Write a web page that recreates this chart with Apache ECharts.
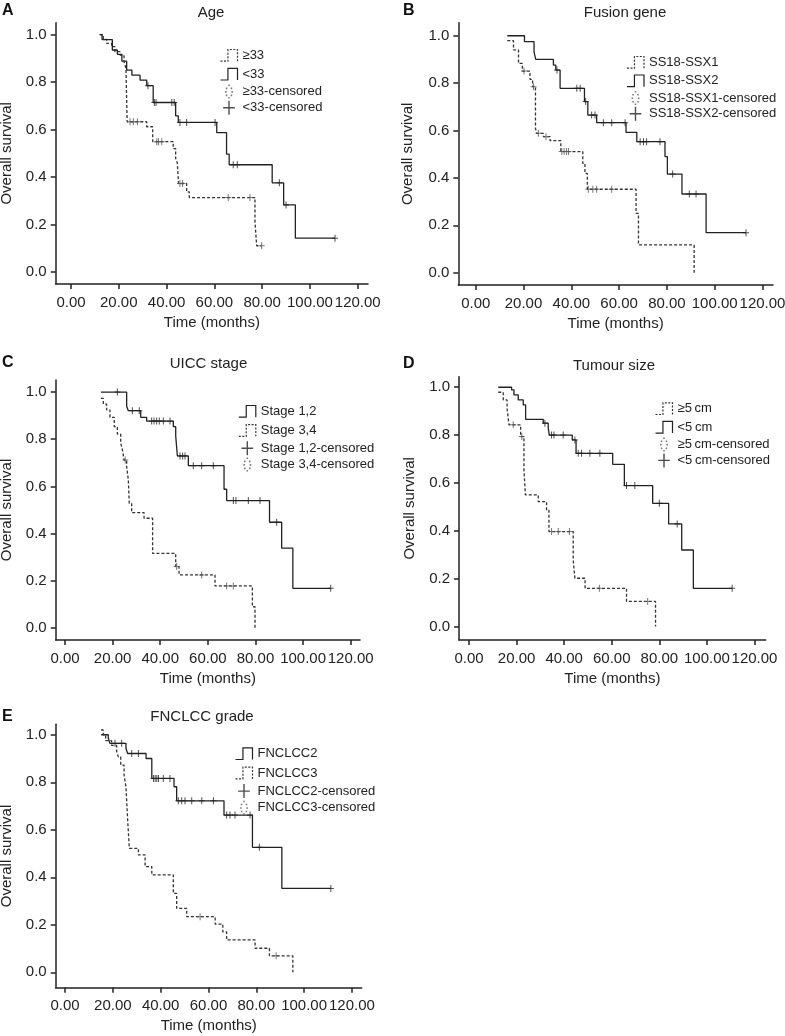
<!DOCTYPE html>
<html>
<head>
<meta charset="utf-8">
<script src="https://cdn.jsdelivr.net/npm/echarts@6/dist/echarts.min.js"></script>
<style>
  html, body { margin: 0; padding: 0; background: #fff; }
  #chart { width: 785px; height: 1036px; }
</style>
</head>
<body>
<div id="chart"></div>
<script>
const FONT = '"Liberation Sans", Arial, Helvetica, sans-serif';
const INK = '#222';

// tick labels
const xTickVals = [0, 20, 40, 60, 80, 100, 120];
const yTickVals = [0, 0.2, 0.4, 0.6, 0.8, 1.0];

// A - Age
const ageOldTime = [12.0, 13.5, 14.9, 17.0, 18.4, 20.5, 22.2, 23.0, 23.5, 31.7, 34.2, 42.8, 43.8, 44.5, 45.0, 48.4, 49.5, 77.0, 77.7, 79.8];
const ageOldSurv = [1.0, 0.98, 0.963, 0.949, 0.928, 0.914, 0.886, 0.858, 0.633, 0.612, 0.549, 0.52, 0.479, 0.46, 0.373, 0.338, 0.314, 0.212, 0.111, 0.111];
const ageOldCens = [24.7, 26.1, 27.8, 35.9, 36.6, 38.0, 45.6, 46.7, 65.8, 74.9, 79.8];
const ageYoungTime = [12.0, 13.0, 17.3, 19.4, 21.3, 23.3, 25.5, 28.9, 31.7, 34.4, 43.8, 44.9, 61.0, 65.1, 66.2, 84.2, 89.0, 93.9, 110.5];
const ageYoungSurv = [1.0, 0.979, 0.935, 0.917, 0.888, 0.85, 0.829, 0.808, 0.785, 0.714, 0.658, 0.63, 0.587, 0.497, 0.452, 0.376, 0.283, 0.143, 0.143];
const ageYoungCens = [32.2, 34.9, 35.6, 42.2, 43.2, 45.6, 48.4, 60.3, 67.9, 69.6, 87.2, 90.0, 110.5];

// B - Fusion gene
const fus1Time = [13.2, 15.8, 17.9, 19.5, 22.7, 23.8, 25.0, 25.5, 28.3, 31.1, 35.6, 44.8, 45.7, 46.7, 67.1, 68.1, 91.4];
const fus1Surv = [0.979, 0.94, 0.883, 0.851, 0.816, 0.785, 0.609, 0.588, 0.574, 0.557, 0.511, 0.461, 0.419, 0.352, 0.25, 0.117, 0.0];
const fus1Cens = [20.2, 24.2, 26.2, 29.4, 36.0, 37.0, 38.0, 38.8, 47.1, 49.0, 50.6, 56.9];
const fus2Time = [13.2, 20.4, 24.4, 25.1, 32.5, 33.5, 35.3, 45.5, 46.9, 50.6, 62.9, 67.4, 79.2, 80.2, 86.3, 96.4, 113.1];
const fus2Surv = [1.0, 0.975, 0.932, 0.9, 0.876, 0.855, 0.778, 0.722, 0.665, 0.633, 0.592, 0.553, 0.49, 0.416, 0.332, 0.169, 0.169];
const fus2Cens = [34.0, 42.3, 43.7, 46.0, 48.5, 49.9, 53.4, 56.9, 62.5, 68.8, 70.2, 71.5, 77.1, 82.4, 89.4, 92.2, 113.1];

// C - UICC stage
const st12Time = [15.1, 25.9, 26.6, 31.8, 34.3, 45.5, 46.5, 47.2, 51.8, 66.8, 67.9, 85.9, 91.0, 95.7, 111.6];
const st12Surv = [1.0, 0.94, 0.921, 0.893, 0.877, 0.853, 0.814, 0.729, 0.688, 0.588, 0.54, 0.448, 0.338, 0.168, 0.168];
const st12Cens = [22.0, 28.3, 31.2, 36.4, 37.4, 38.5, 39.6, 41.3, 44.1, 48.3, 49.4, 50.4, 53.9, 57.4, 62.3, 70.7, 71.8, 77.0, 81.9, 88.9, 111.6];
const st34Time = [15.1, 16.1, 17.5, 18.9, 20.7, 22.0, 23.4, 24.2, 24.8, 25.9, 26.6, 27.0, 28.0, 33.2, 36.8, 46.5, 47.9, 63.0, 78.7, 79.8];
const st34Surv = [0.973, 0.949, 0.924, 0.893, 0.853, 0.822, 0.785, 0.751, 0.712, 0.684, 0.627, 0.528, 0.489, 0.465, 0.316, 0.26, 0.225, 0.178, 0.09, 0.0];
const st34Cens = [25.3, 46.9, 57.4, 67.9, 70.7];

// D - Tumour size
const szBigTime = [12.3, 14.4, 16.0, 16.8, 21.7, 23.1, 23.7, 29.1, 32.6, 33.6, 43.8, 44.5, 48.8, 66.2, 78.4];
const szBigSurv = [0.979, 0.947, 0.912, 0.843, 0.794, 0.655, 0.55, 0.522, 0.487, 0.397, 0.279, 0.202, 0.16, 0.105, 0.0];
const szBigCens = [18.6, 22.2, 34.7, 37.5, 42.2, 54.8, 75.1];
const szSmallTime = [12.3, 17.9, 18.9, 20.7, 22.8, 23.8, 31.2, 33.3, 33.8, 43.4, 45.0, 60.4, 65.3, 77.2, 83.9, 89.4, 94.3, 110.6];
const szSmallSurv = [1.0, 0.989, 0.968, 0.947, 0.926, 0.866, 0.85, 0.829, 0.80, 0.78, 0.724, 0.678, 0.589, 0.515, 0.429, 0.32, 0.16, 0.16];
const szSmallCens = [31.9, 34.7, 35.7, 39.6, 44.5, 45.9, 47.3, 50.8, 55.0, 66.2, 69.7, 80.0, 87.5, 110.6];

// E - FNCLCC grade
const gr2Time = [15.1, 18.1, 18.8, 25.5, 26.2, 33.9, 36.3, 45.6, 46.7, 66.5, 78.4, 90.7, 111.2];
const gr2Surv = [1.0, 0.985, 0.964, 0.942, 0.921, 0.9, 0.816, 0.781, 0.722, 0.662, 0.526, 0.353, 0.353];
const gr2Cens = [20.9, 23.7, 27.9, 30.7, 37.0, 37.7, 38.4, 39.1, 41.1, 43.9, 47.4, 48.8, 50.2, 53.0, 57.2, 62.1, 67.6, 69.0, 71.1, 77.4, 81.3, 111.2];
const gr3Time = [15.1, 16.0, 17.0, 19.5, 21.6, 22.3, 23.3, 24.7, 25.5, 26.2, 26.9, 30.7, 33.5, 36.3, 45.3, 46.7, 50.9, 62.8, 66.0, 67.6, 79.5, 85.5, 95.3];
const gr3Surv = [1.02, 1.0, 0.975, 0.955, 0.93, 0.907, 0.872, 0.83, 0.78, 0.641, 0.522, 0.494, 0.445, 0.41, 0.332, 0.269, 0.234, 0.203, 0.17, 0.136, 0.101, 0.069, 0.0];
const gr3Cens = [56.5, 88.3];

// panel layout (curves listed in legend order)
const panels = [
  { letter: 'A', title: 'Age', titleX: 211, titleY: 13, letterX: 2, letterY: 11,
    grid: { left: 55.7, top: 22.7, width: 312.3, height: 261.3 }, x: [-6.4, 124.3], y: [-0.05, 1.05],
    yGap: 41, legend: { left: 218, top: 47, gap: 2.1 },
    curves: [
      { name: '≥33', t: ageOldTime, s: ageOldSurv, c: ageOldCens, dashed: true },
      { name: '<33', t: ageYoungTime, s: ageYoungSurv, c: ageYoungCens, dashed: false }
    ] },
  { letter: 'B', title: 'Fusion gene', titleX: 625, titleY: 13, letterX: 403, letterY: 11,
    grid: { left: 458.3, top: 22.7, width: 314.7, height: 262.3 }, x: [-7.3, 124.4], y: [-0.052, 1.055],
    yGap: 43, legend: { left: 624.5, top: 54, gap: 1.8 },
    curves: [
      { name: 'SS18-SSX1', t: fus1Time, s: fus1Surv, c: fus1Cens, dashed: true },
      { name: 'SS18-SSX2', t: fus2Time, s: fus2Surv, c: fus2Cens, dashed: false }
    ] },
  { letter: 'C', title: 'UICC stage', titleX: 208.5, titleY: 364, letterX: 2, letterY: 363,
    grid: { left: 55.7, top: 380, width: 304.3, height: 260 }, x: [-3.9, 123.9], y: [-0.051, 1.051],
    yGap: 41, legend: { left: 236.3, top: 403, gap: 2.4 },
    curves: [
      { name: 'Stage 1,2', t: st12Time, s: st12Surv, c: st12Cens, dashed: false },
      { name: 'Stage 3,4', t: st34Time, s: st34Surv, c: st34Cens, dashed: true }
    ] },
  { letter: 'D', title: 'Tumour size', titleX: 614, titleY: 366, letterX: 403, letterY: 364,
    grid: { left: 459, top: 376.7, width: 306.7, height: 263.3 }, x: [-4.2, 124.7], y: [-0.056, 1.044],
    yGap: 42, legend: { left: 653, top: 400.3, gap: 1.9 },
    curves: [
      { name: '≥5\u2009cm', t: szBigTime, s: szBigSurv, c: szBigCens, dashed: true },
      { name: '<5\u2009cm', t: szSmallTime, s: szSmallSurv, c: szSmallCens, dashed: false }
    ] },
  { letter: 'E', title: 'FNCLCC grade', titleX: 202, titleY: 717, letterX: 2, letterY: 717,
    grid: { left: 55.7, top: 724.3, width: 306, height: 263.4 }, x: [-3.9, 124.1], y: [-0.065, 1.044],
    yGap: 41, legend: { left: 233, top: 745.3, gap: 2.7 },
    curves: [
      { name: 'FNCLCC2', t: gr2Time, s: gr2Surv, c: gr2Cens, dashed: false },
      { name: 'FNCLCC3', t: gr3Time, s: gr3Surv, c: gr3Cens, dashed: true }
    ] }
];

const stepIcon = 'path://M0,12 L7,12 L7,1 L16,1 L16,12';
const plusIcon = 'path://M4.4,0 H5.6 V5.4 H10 V6.6 H5.6 V12 H4.4 V6.6 H0 V5.4 H4.4 Z';
const dotIcon = 'path://M3.5,0h1.3v1.3h-1.3z M5.6,2.6h1.3v1.3h-1.3z M6.2,5.6h1.3v1.3h-1.3z M5.6,8.6h1.3v1.3h-1.3z M3.5,10.7h1.3v1.3h-1.3z M1.4,8.6h1.3v1.3h-1.3z M0.8,5.6h1.3v1.3h-1.3z M1.4,2.6h1.3v1.3h-1.3z';
const censorMark = 'path://M2.5,0 H3.5 V3 H6 V4 H3.5 V7 H2.5 V4 H0 V3 H2.5 Z';

function survAt(time, surv, t) {
  let v = surv[0];
  for (let k = 0; k < time.length; k++) if (time[k] <= t) v = surv[k];
  return v;
}

const chart = echarts.init(document.getElementById('chart'));

const grids = [], xAxes = [], yAxes = [], series = [], legends = [], texts = [];

panels.forEach((p, i) => {
  grids.push(Object.assign({ outerBoundsMode: 'none', containLabel: false }, p.grid));

  xAxes.push({
    gridIndex: i, type: 'value', min: p.x[0], max: p.x[1],
    axisLine: { show: true, onZero: false, lineStyle: { color: INK, width: 1.5 } },
    axisTick: { show: true, inside: false, length: 5, customValues: xTickVals, lineStyle: { color: INK, width: 1.5 } },
    axisLabel: { customValues: xTickVals, formatter: v => v.toFixed(2), margin: 11, fontSize: 15, color: INK, fontFamily: FONT },
    splitLine: { show: false },
    name: 'Time (months)', nameLocation: 'middle', nameGap: 31,
    nameTextStyle: { fontSize: 15, color: INK, fontFamily: FONT }
  });

  yAxes.push({
    gridIndex: i, type: 'value', min: p.y[0], max: p.y[1],
    axisLine: { show: true, onZero: false, lineStyle: { color: INK, width: 1.5 } },
    axisTick: { show: true, inside: false, length: 5, customValues: yTickVals, lineStyle: { color: INK, width: 1.5 } },
    axisLabel: { customValues: yTickVals, formatter: v => v.toFixed(1), margin: 9, fontSize: 15, color: INK, fontFamily: FONT },
    splitLine: { show: false },
    name: 'Overall survival', nameLocation: 'middle', nameRotate: 90, nameGap: p.yGap,
    nameTextStyle: { fontSize: 15, color: INK, fontFamily: FONT }
  });

  const lineItems = [], censItems = [];
  p.curves.forEach(c => {
    const col = c.dashed ? '#333' : INK;
    series.push({
      name: c.name, type: 'line', xAxisIndex: i, yAxisIndex: i,
      step: 'end', symbol: 'none', showSymbol: false, silent: true,
      data: c.t.map((t, k) => [t, c.s[k]]),
      lineStyle: { color: col, width: 1.3, type: c.dashed ? [3, 2] : 'solid' },
      itemStyle: { color: col },
      z: 2
    });
    series.push({
      name: c.name + '-censored', type: 'scatter', xAxisIndex: i, yAxisIndex: i, silent: true,
      data: c.c.map(t => [t, survAt(c.t, c.s, t)]),
      symbol: censorMark, symbolSize: [6, 7],
      itemStyle: { color: c.dashed ? '#555' : INK },
      z: 3
    });
    lineItems.push({
      name: c.name, icon: stepIcon,
      itemStyle: { color: 'none', borderColor: col, borderWidth: 1.2, borderType: c.dashed ? [2, 1.5] : 'solid' }
    });
    censItems.push({
      name: c.name + '-censored', icon: c.dashed ? dotIcon : plusIcon,
      itemStyle: { color: c.dashed ? '#555' : INK, borderWidth: 0 }
    });
  });

  legends.push({
    orient: 'vertical', left: p.legend.left, top: p.legend.top, padding: 0,
    itemWidth: 17, itemHeight: 14, itemGap: p.legend.gap, selectedMode: false,
    textStyle: { fontSize: 13, color: INK, fontFamily: FONT },
    data: lineItems.concat(censItems)
  });

  texts.push({ type: 'text', x: p.titleX, y: p.titleY, silent: true,
    style: { text: p.title, fill: INK, font: '15px ' + FONT, align: 'center', verticalAlign: 'middle' } });
  texts.push({ type: 'text', x: p.letterX, y: p.letterY, silent: true,
    style: { text: p.letter, fill: '#111', font: 'bold 16px ' + FONT, align: 'left', verticalAlign: 'middle' } });
});

chart.setOption({
  animation: false,
  backgroundColor: '#fff',
  textStyle: { fontFamily: FONT },
  grid: grids,
  xAxis: xAxes,
  yAxis: yAxes,
  legend: legends,
  series: series,
  graphic: { elements: texts }
});
</script>
</body>
</html>
